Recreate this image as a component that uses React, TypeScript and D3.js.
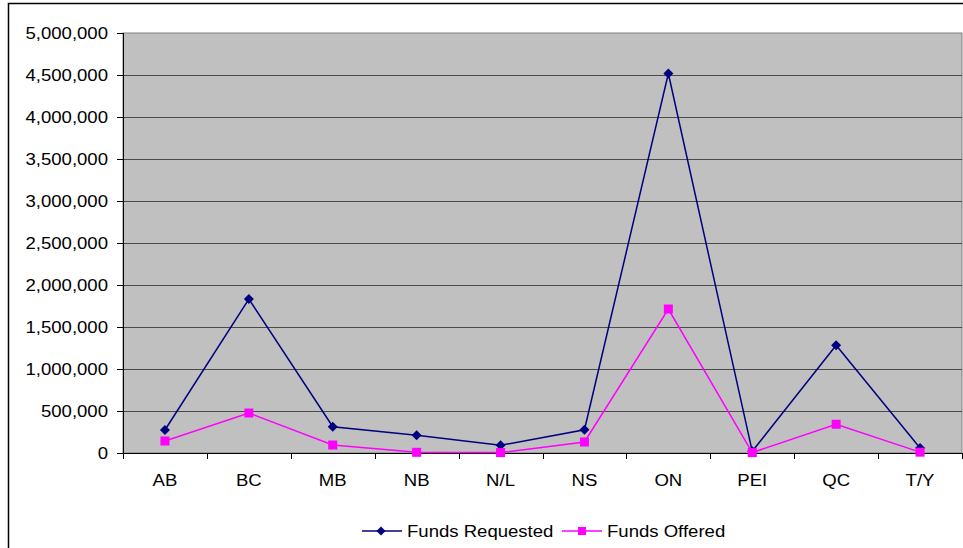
import React from "react";
import * as d3 from "d3";

const categories = ["AB", "BC", "MB", "NB", "N/L", "NS", "ON", "PEI", "QC", "T/Y"];
const fundsRequested = [274000, 1833000, 313000, 210000, 92000, 277000, 4518000, 20000, 1282000, 60000];
const fundsOffered = [143000, 476000, 95000, 8000, 5000, 131000, 1714000, 5000, 342000, 10000];
const yTicks = [0, 500000, 1000000, 1500000, 2000000, 2500000, 3000000, 3500000, 4000000, 4500000, 5000000];
const seriesNames = ["Funds Requested", "Funds Offered"];

const W = 963;
const H = 548;
const plot = { left: 123, top: 33, right: 962, bottom: 453 };
const FONT = "'Liberation Sans', Arial, sans-serif";
const SX = 1.16;

function T(props: { x: number; y: number; anchor?: string; children: React.ReactNode }) {
  return (
    <text
      transform={`translate(${props.x},${props.y}) scale(${SX},1)`}
      textAnchor={props.anchor || "start"}
      fontSize={16}
      fill="#000"
    >
      {props.children}
    </text>
  );
}

export default function App() {
  const x = d3
    .scaleBand<string>()
    .domain(categories)
    .range([plot.left, plot.right])
    .paddingInner(0)
    .paddingOuter(0);
  const y = d3.scaleLinear().domain([0, 5000000]).range([plot.bottom, plot.top]);
  const fmt = d3.format(",");
  const cx = (c: string) => (x(c) as number) + x.bandwidth() / 2;

  const line = d3
    .line<number>()
    .x((_, i) => cx(categories[i]))
    .y((d) => y(d));

  const diamond = (px: number, py: number, r: number) =>
    `M${px},${py - r}L${px + r},${py}L${px},${py + r}L${px - r},${py}Z`;

  const boundaries = d3.range(categories.length + 1).map((i) => plot.left + i * x.bandwidth());

  const legendY = 531;
  const leg1X = 362;
  const leg2X = 562;

  return (
    <svg
      width={W}
      height={H}
      style={{ position: "absolute", left: 0, top: 0, background: "#fff" }}
      fontFamily={FONT}
    >
      <rect x={0} y={0} width={W} height={H} fill="#fff" />
      <rect x={8.5} y={3.5} width={1100} height={700} fill="#fff" stroke="#000" strokeWidth={1.5} />
      {/* plot background */}
      <rect
        x={plot.left}
        y={plot.top}
        width={plot.right - plot.left}
        height={plot.bottom - plot.top}
        fill="#C0C0C0"
        stroke="#808080"
        strokeWidth={1}
      />
      {/* gridlines */}
      {yTicks.slice(1, -1).map((t) => (
        <line
          key={"g" + t}
          x1={plot.left}
          x2={plot.right}
          y1={Math.round(y(t)) + 0.5}
          y2={Math.round(y(t)) + 0.5}
          stroke="#4a4a4a"
          strokeWidth={1}
        />
      ))}
      {/* y axis */}
      <line x1={plot.left + 0.5} x2={plot.left + 0.5} y1={plot.top} y2={plot.bottom} stroke="#000" />
      {yTicks.map((t) => (
        <g key={"y" + t}>
          <line
            x1={plot.left - 6}
            x2={plot.left}
            y1={Math.round(y(t)) + 0.5}
            y2={Math.round(y(t)) + 0.5}
            stroke="#000"
          />
          <T x={108} y={y(t) + 5.5} anchor="end">
            {fmt(t)}
          </T>
        </g>
      ))}
      {/* x axis */}
      <line x1={plot.left} x2={plot.right} y1={plot.bottom + 0.5} y2={plot.bottom + 0.5} stroke="#000" />
      {boundaries.map((b, i) => (
        <line
          key={"xt" + i}
          x1={Math.round(b) + 0.5}
          x2={Math.round(b) + 0.5}
          y1={plot.bottom}
          y2={plot.bottom + 6}
          stroke="#000"
        />
      ))}
      {categories.map((c) => (
        <T key={"x" + c} x={cx(c)} y={486} anchor="middle">
          {c}
        </T>
      ))}
      {/* series */}
      <path d={line(fundsRequested) || ""} fill="none" stroke="#000080" strokeWidth={1.5} />
      {fundsRequested.map((v, i) => (
        <path key={"r" + i} d={diamond(cx(categories[i]), y(v), 5)} fill="#000080" />
      ))}
      <path d={line(fundsOffered) || ""} fill="none" stroke="#FF00FF" strokeWidth={1.5} />
      {fundsOffered.map((v, i) => (
        <rect
          key={"o" + i}
          x={cx(categories[i]) - 4.5}
          y={y(v) - 4.5}
          width={9}
          height={9}
          fill="#FF00FF"
        />
      ))}
      {/* legend */}
      <g>
        <line x1={leg1X} x2={leg1X + 40} y1={legendY} y2={legendY} stroke="#000080" strokeWidth={1.5} />
        <path d={diamond(leg1X + 19, legendY, 4.5)} fill="#000080" />
        <T x={leg1X + 45} y={legendY + 5.5}>
          {seriesNames[0]}
        </T>
        <line x1={leg2X} x2={leg2X + 40} y1={legendY} y2={legendY} stroke="#FF00FF" strokeWidth={1.5} />
        <rect x={leg2X + 16} y={legendY - 4} width={8} height={8} fill="#FF00FF" />
        <T x={leg2X + 45} y={legendY + 5.5}>
          {seriesNames[1]}
        </T>
      </g>
    </svg>
  );
}
